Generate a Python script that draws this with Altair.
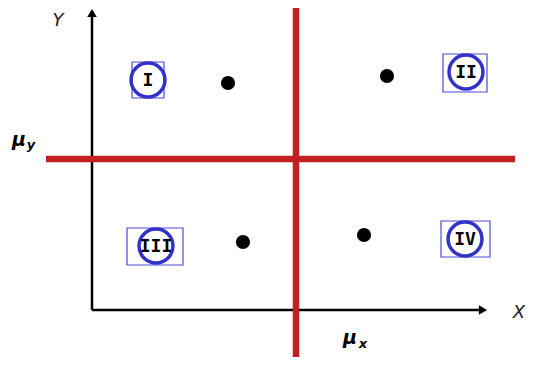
import altair as alt
import pandas as pd

# diagram coordinates (plot units, y grows downward)
axis_x0, axis_y0 = [84], [302]
yaxis_top = [8]
xaxis_right = [472]
mean_x = [288]
mean_y = [151]

dot_x = [220, 379, 235, 356]
dot_y = [75, 68, 234, 227]

quad_labels = ["I", "II", "III", "IV"]
quad_x = [140, 458, 148, 457]
quad_y = [72, 64, 238, 231]
box_x1 = [124, 435, 119, 433]
box_x2 = [156, 479, 175, 482]
box_y1 = [54, 46, 220, 213]
box_y2 = [90, 84, 257, 249]

W, H = 520, 349
xs = alt.Scale(domain=[0, W], nice=False, zero=False)
ys = alt.Scale(domain=[0, H], nice=False, zero=False, reverse=True)

def X(f="x"):
    return alt.X(f"{f}:Q", scale=xs, axis=None)

def Y(f="y"):
    return alt.Y(f"{f}:Q", scale=ys, axis=None)

RED = "#c0201f"
BLUE = "#3232c8"

# black axes
axes_df = pd.DataFrame({
    "x": [axis_x0[0], axis_x0[0]],
    "y": [axis_y0[0], axis_y0[0]],
    "x2": [axis_x0[0], xaxis_right[0]],
    "y2": [yaxis_top[0], axis_y0[0]],
})
axes = alt.Chart(axes_df).mark_rule(color="black", strokeWidth=2.5).encode(
    x=X(), y=Y(), x2="x2:Q", y2="y2:Q")

arrows_df = pd.DataFrame({
    "x": [axis_x0[0], xaxis_right[0] + 3],
    "y": [yaxis_top[0] - 3, axis_y0[0]],
    "shape": ["triangle-up", "triangle-right"],
})
arrows = alt.Chart(arrows_df).mark_point(filled=True, color="black", opacity=1, size=90).encode(
    x=X(), y=Y(), shape=alt.Shape("shape:N", scale=None, legend=None))

# red mean lines
red_df = pd.DataFrame({
    "x": [mean_x[0], 38],
    "y": [0, mean_y[0]],
    "x2": [mean_x[0], 507],
    "y2": [H, mean_y[0]],
})
red = alt.Chart(red_df).mark_rule(color=RED, strokeWidth=6.5).encode(
    x=X(), y=Y(), x2="x2:Q", y2="y2:Q")

# data points
dots = alt.Chart(pd.DataFrame({"x": dot_x, "y": dot_y})).mark_point(
    filled=True, color="black", opacity=1, size=200, shape="circle").encode(x=X(), y=Y())

qdf = pd.DataFrame({"x": quad_x, "y": quad_y, "label": quad_labels,
                    "bx1": box_x1, "bx2": box_x2, "by1": box_y1, "by2": box_y2})
boxes = alt.Chart(qdf).mark_rect(fill=None, stroke="#4a4ad8", strokeWidth=1.2).encode(
    x=X("bx1"), x2="bx2:Q", y=Y("by1"), y2="by2:Q")
rings = alt.Chart(qdf).mark_point(shape="circle", filled=False, color=BLUE,
                                  strokeWidth=3.5, size=1150, opacity=1).encode(x=X(), y=Y())
nums = alt.Chart(qdf).mark_text(font="DejaVu Sans Mono", fontWeight="bold", fontSize=18,
                                color="black", dy=1).encode(x=X(), y=Y(), text="label:N")

# axis names
names_df = pd.DataFrame({"x": [50, 511], "y": [13, 305], "t": ["Y", "X"]})
names = alt.Chart(names_df).mark_text(font="DejaVu Sans", fontStyle="italic", fontSize=18,
                                      color="#222222").encode(x=X(), y=Y(), text="t:N")

mu_df = pd.DataFrame({"x": [11, 342], "y": [132, 330], "t": ["μ", "μ"]})
mu = alt.Chart(mu_df).mark_text(font="DejaVu Sans", fontWeight="bold", fontStyle="italic",
                                fontSize=19, color="black").encode(x=X(), y=Y(), text="t:N")
sub_df = pd.DataFrame({"x": [23, 355], "y": [137, 336], "t": ["y", "x"]})
sub = alt.Chart(sub_df).mark_text(font="DejaVu Sans", fontWeight="bold", fontStyle="italic",
                                  fontSize=13, color="black").encode(x=X(), y=Y(), text="t:N")

chart = alt.layer(axes, arrows, red, dots, boxes, rings, nums, names, mu, sub).properties(
    width=W, height=H, autosize=alt.AutoSizeParams(type="none"), padding=0
).configure_view(stroke=None)

chart.save("out.html", embed_options={"renderer": "svg", "actions": False})
